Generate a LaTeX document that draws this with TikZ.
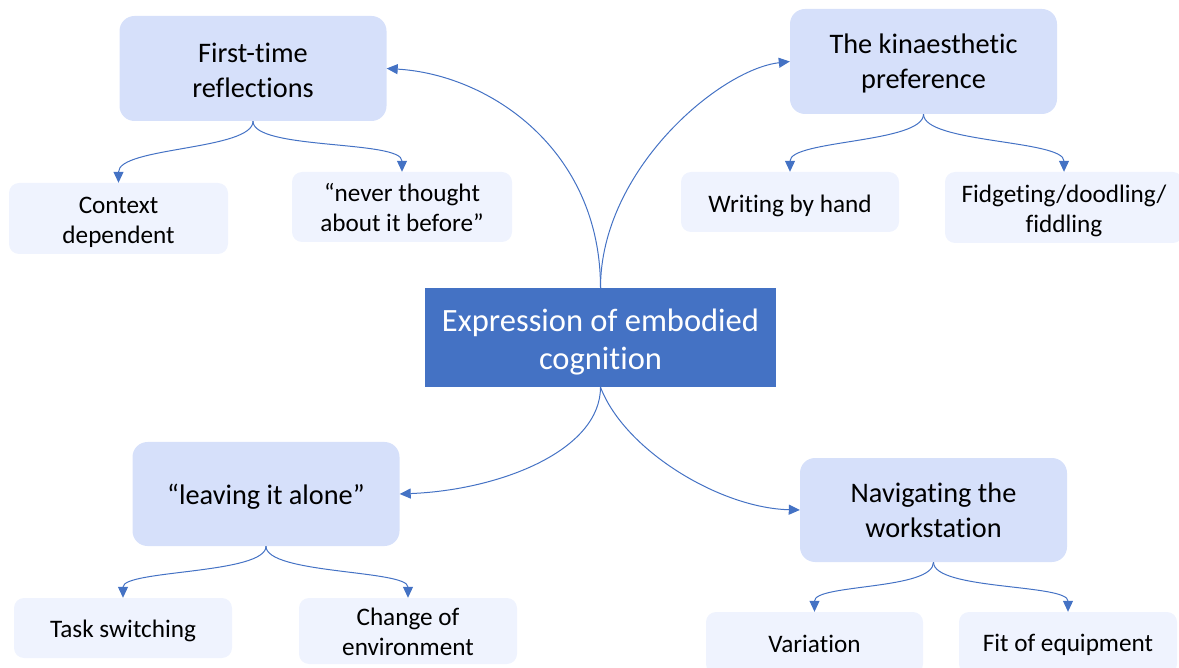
\documentclass[tikz,border=0pt]{standalone}
\usepackage{fontspec}
\setmainfont{Carlito}[Ligatures={NoCommon,NoRare}]
\usetikzlibrary{arrows.meta}
\definecolor{accent}{HTML}{4472C4}
\definecolor{lvlone}{HTML}{D6E0FA}
\definecolor{lvltwo}{HTML}{EFF3FE}
\newcommand{\mytopstrut}[1]{\rule{0pt}{\dimexpr0.72em+#1\relax}}
\begin{document}
\begin{tikzpicture}[x=1pt,y=-1pt,
  centralbox/.style={fill=accent, text=white, minimum width=351pt, minimum height=99pt, inner sep=0pt, align=center, font=\fontsize{32.5}{38}\selectfont},
  topicbox/.style={fill=lvlone, rounded corners=15pt, minimum width=267pt, minimum height=105pt, inner sep=0pt, align=center, font=\fontsize{28.3}{35}\selectfont},
  leafbox/.style={fill=lvltwo, rounded corners=10pt, minimum width=218pt, inner sep=0pt, align=center, font=\fontsize{25.2}{30}\selectfont},
  conn/.style={draw=accent, line width=1pt, -{Triangle[length=11pt,width=10pt]}}
]
\useasboundingbox (0,0) rectangle (1179,668);

% nodes
\node[centralbox] (c) at (600.5,337.5) {\mytopstrut{8pt}Expression of embodied\\cognition};
\node[topicbox] (ft) at (253,68.5) {\mytopstrut{3pt}First-time\\reflections};
\node[topicbox] (kp) at (923.5,61.5) {\mytopstrut{4pt}The kinaesthetic\\preference};
\node[topicbox, minimum height=104pt] (la) at (266,494) {\mytopstrut{5pt}“leaving it alone”};
\node[topicbox, minimum height=104pt] (nw) at (933.5,510) {\mytopstrut{0pt}Navigating the\\workstation};

\node[leafbox, minimum width=219pt, minimum height=71pt] (cd) at (118.5,218.5) {\mytopstrut{6pt}Context\\dependent};
\node[leafbox, minimum width=220pt, minimum height=70pt] (nt) at (402,207) {\mytopstrut{1pt}“never thought\\about it before”};
\node[leafbox, minimum height=60pt] (wh) at (790,202) {\mytopstrut{7pt}Writing by hand};
\node[leafbox, minimum width=238pt, minimum height=71pt] (fd) at (1064,207.5) {\mytopstrut{6pt}Fidgeting/doodling/\\fiddling};
\node[leafbox, minimum height=60pt] (ts) at (123,628) {\mytopstrut{5pt}Task switching};
\node[leafbox, minimum height=66pt] (ce) at (408,631) {\mytopstrut{1pt}Change of\\environment};
\node[leafbox, minimum width=217pt, minimum height=62pt] (va) at (814.5,643) {\mytopstrut{2pt}Variation};
\node[leafbox, minimum height=62pt] (fe) at (1068,643) {\mytopstrut{2pt}Fit of equipment};

% main connectors
\draw[conn] (c.north) .. controls +(0,-138) and +(103,6) .. (ft.east);
\draw[conn] (c.north) .. controls +(0,-118) and +(-70,8) .. (kp.west);
\draw[conn] (c.south) .. controls +(0,63) and +(101,-4) .. (la.east);
\draw[conn] (c.south) .. controls +(24,63) and +(-80,-2) .. (nw.west);

% child connectors
\draw[conn] (ft.south) .. controls +(0,29) and +(0,-36) .. (cd.north);
\draw[conn] (ft.south) .. controls +(0,29) and +(0,-32) .. (nt.north);
\draw[conn] (kp.south) .. controls +(0,29) and +(0,-32) .. (wh.north);
\draw[conn] (kp.south) .. controls +(0,29) and +(0,-32) .. (fd.north);
\draw[conn] (la.south) .. controls +(0,28) and +(0,-28) .. (ts.north);
\draw[conn] (la.south) .. controls +(0,28) and +(0,-28) .. (ce.north);
\draw[conn] (nw.south) .. controls +(0,28) and +(0,-28) .. (va.north);
\draw[conn] (nw.south) .. controls +(0,28) and +(0,-28) .. (fe.north);
\end{tikzpicture}
\end{document}
